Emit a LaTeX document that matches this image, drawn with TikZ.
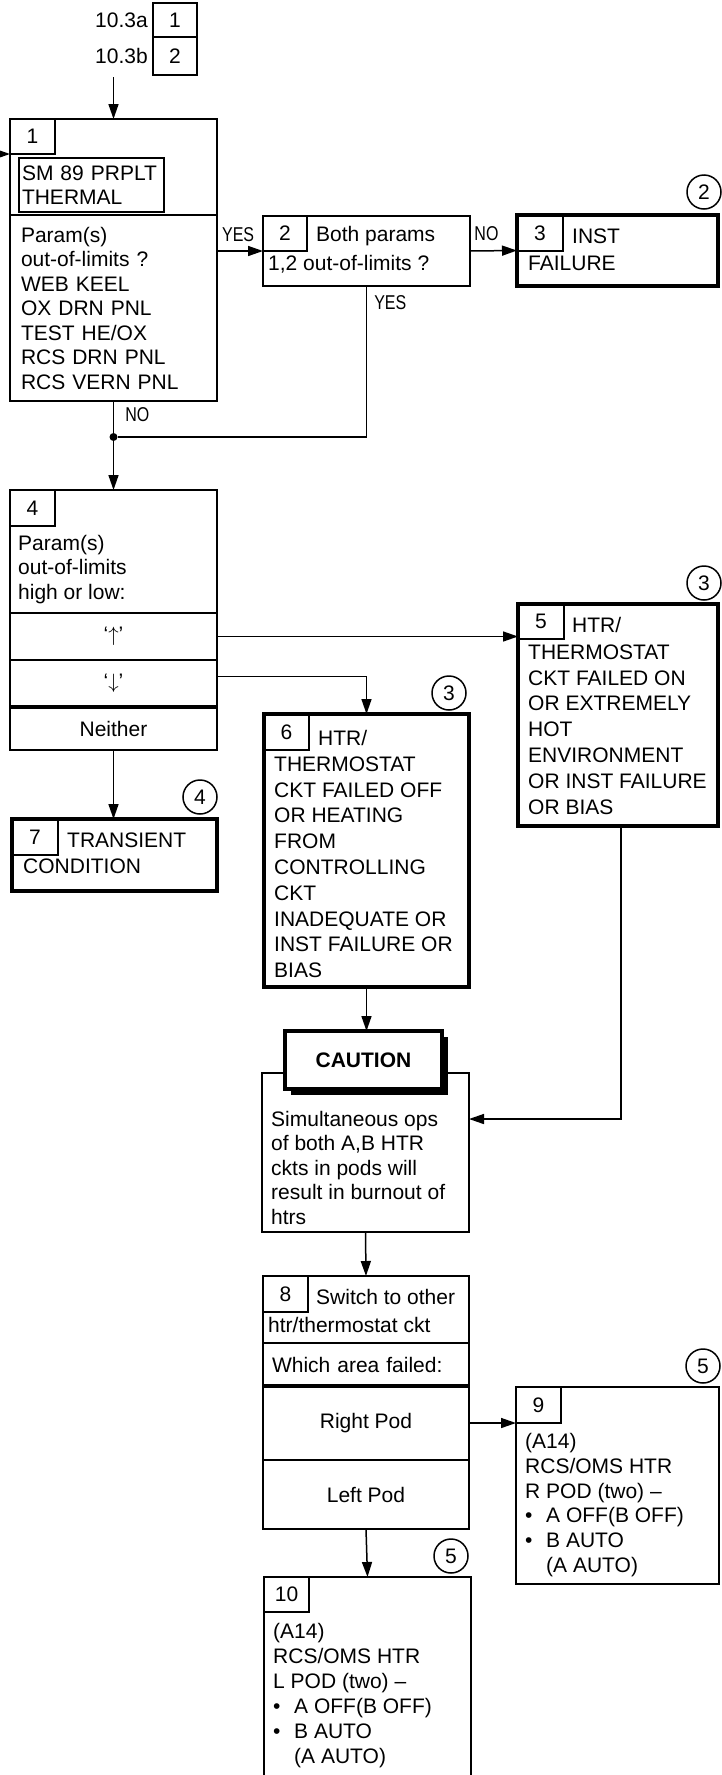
\documentclass[tikz,border=0pt]{standalone}
\usepackage{fontspec}
\setmainfont{Liberation Sans}
\newfontfamily\lblfont[FakeStretch=0.8]{Liberation Sans}
\usetikzlibrary{positioning,arrows.meta,shadows}
\newcommand{\boxfont}{\fontsize{21}{24.5}\selectfont}
\newcommand{\loosefont}{\fontsize{21}{25.8}\selectfont}

\begin{document}
\begin{tikzpicture}[
    x=1pt, y=-1pt,
    boxframe/.style={draw, line width=2pt, inner sep=0pt, outer sep=0pt, minimum width=207pt, anchor=north west, font=\boxfont},
    endframe/.style={boxframe, line width=4.5pt},
    numtab/.style={draw, line width=1.5pt, inner sep=0pt, outer sep=0pt, minimum width=45pt, minimum height=36pt, anchor=north west, font=\boxfont},
    txt/.style={align=left, inner sep=0pt, anchor=north west, font=\boxfont},
    loosetxt/.style={txt, font=\loosefont},
    circnum/.style={circle, draw, line width=1.5pt, minimum size=34pt, inner sep=0pt, font=\boxfont},
    junct/.style={circle, fill, inner sep=0pt, minimum size=8pt},
    yesno/.style={font=\lblfont\fontsize{20}{20}\selectfont, inner sep=1pt},
    arr/.style={-{Triangle[length=15pt, width=10pt]}, line width=1.5pt},
    wire/.style={line width=1.5pt},
]
    \useasboundingbox (0,0) rectangle (721,1775);

    % Entry references
    \node[boxframe, minimum width=44pt, minimum height=34pt] (ref1) at (153,3) {1};
    \node[boxframe, minimum width=44pt, minimum height=38pt, below=0pt of ref1] (ref2) {2};
    \node[txt, left=5pt of ref1] (lbl1) {10.3a};
    \node[txt, left=5pt of ref2] (lbl2) {10.3b};
    \coordinate (entry) at (113.5,77);
    \coordinate (fromleft) at (-8,154);

    % Block 1
    \node[boxframe, minimum height=96pt] (b1head) at (10,119) {};
    \node[boxframe, minimum height=186pt, below=0pt of b1head, text width=185pt, align=left] (b1body) {Param(s)\\out-of-limits ?\\WEB KEEL\\OX DRN PNL\\TEST HE/OX\\RCS DRN PNL\\RCS VERN PNL};
    \node[numtab, minimum height=35pt] (tab1) at (b1head.north west) {1};
    \node[draw, line width=2pt, inner xsep=3pt, inner ysep=0pt, outer sep=0pt, text width=139pt, minimum height=54pt, align=left, font=\boxfont, below right=39pt and 9pt of b1head.north west] (sm89) {SM 89 PRPLT\\THERMAL};

    % Block 2
    \node[boxframe, minimum height=70pt] (b2) at (263,216) {};
    \node[numtab, minimum width=44pt, minimum height=35pt] (tab2) at (b2.north west) {2};
    \node[txt, below right=10pt and 5pt of b2.north west] (b2txt) {\hspace*{48pt}Both params\\[4.5pt]1,2 out-of-limits ?};

    % Block 3
    \node[endframe, minimum width=201pt, minimum height=71pt] (b3) at (517,215) {};
    \node[numtab, minimum width=46pt] (tab3) at (b3.north west) {3};
    \node[txt, below right=14pt and 11pt of b3.north west] (b3txt) {\hspace*{44pt}INST\\[2.5pt]FAILURE};
    \node[circnum] (c2) at (704,192) {2};

    \node[junct] (jn) at (113.5,437) {};

    % Block 4
    \node[boxframe, minimum height=123pt] (b4top) at (10,490) {};
    \node[boxframe, minimum height=47pt, below=0pt of b4top] (b4up) {‘$\uparrow$’};
    \node[boxframe, minimum height=47pt, below=0pt of b4up] (b4down) {‘$\downarrow$’};
    \node[boxframe, minimum height=43pt, below=0pt of b4down] (b4nei) {Neither};
    \draw[line width=3.5pt] (b4down.south west) -- (b4down.south east);
    \node[numtab] (tab4) at (b4top.north west) {4};
    \node[txt, below right=45pt and 8pt of b4top.north west] (b4txt) {Param(s)\\out-of-limits\\high or low:};

    % Block 5
    \node[endframe, minimum width=200pt, minimum height=222pt] (b5) at (518,604) {};
    \node[numtab, minimum width=46pt, minimum height=35pt] (tab5) at (b5.north west) {5};
    \node[loosetxt, below right=13pt and 10pt of b5.north west] (b5txt) {\hspace*{44pt}HTR/\\[1pt]THERMOSTAT\\CKT FAILED ON\\OR EXTREMELY\\HOT\\ENVIRONMENT\\OR INST FAILURE\\OR BIAS};
    \node[circnum] (c3a) at (704,583) {3};

    % Block 6
    \node[endframe, minimum width=205pt, minimum height=273pt] (b6) at (264,714) {};
    \node[numtab] (tab6) at (b6.north west) {6};
    \node[loosetxt, below right=16pt and 10pt of b6.north west] (b6txt) {\hspace*{44pt}HTR/\\THERMOSTAT\\CKT FAILED OFF\\OR HEATING\\FROM\\CONTROLLING\\CKT\\INADEQUATE OR\\INST FAILURE OR\\BIAS};
    \node[circnum] (c3b) at (449,693) {3};

    % Block 7
    \node[endframe, minimum width=205pt, minimum height=72pt] (b7) at (12,819) {};
    \node[numtab, minimum width=46pt] (tab7) at (b7.north west) {7};
    \node[loosetxt, below right=14pt and 11pt of b7.north west] (b7txt) {\hspace*{44pt}TRANSIENT\\CONDITION};
    \node[circnum] (c4) at (200,797) {4};

    % Caution
    \node[boxframe, minimum height=159pt] (cautbox) at (262,1073) {};
    \node[txt, below right=38pt and 9pt of cautbox.north west] (cauttxt) {Simultaneous ops\\of both A,B HTR\\ckts in pods will\\result in burnout of\\htrs};
    \node[endframe, line width=4pt, minimum width=157pt, minimum height=58pt, fill=white, drop shadow={shadow xshift=6pt, shadow yshift=-6pt, fill=black, opacity=1}, font=\boxfont\bfseries] (cauthead) at (285,1031) {CAUTION};

    % Block 8
    \node[boxframe, minimum width=206pt, minimum height=67pt] (b8top) at (263,1276) {};
    \node[boxframe, minimum width=206pt, minimum height=43pt, below=0pt of b8top, text width=188pt, align=left] (b8which) {Which area failed:};
    \node[boxframe, minimum width=206pt, minimum height=74pt, below=0pt of b8which] (b8right) {Right Pod};
    \node[boxframe, minimum width=206pt, minimum height=69pt, below=0pt of b8right] (b8left) {Left Pod};
    \draw[line width=3.5pt] (b8which.south west) -- (b8which.south east);
    \node[numtab] (tab8) at (b8top.north west) {8};
    \node[txt, below right=13pt and 5pt of b8top.north west] (b8txt) {\hspace*{48pt}Switch to other\\[3.5pt]htr/thermostat ckt};

    % Block 9
    \node[boxframe, minimum width=203pt, minimum height=197pt] (b9) at (516,1387) {};
    \node[numtab] (tab9) at (b9.north west) {9};
    \node[txt, below right=46pt and 9pt of b9.north west, font=\fontsize{21}{24.8}\selectfont] (b9txt) {(A14)\\RCS/OMS HTR\\R POD (two) –\\\makebox[21pt][l]{•}A OFF(B OFF)\\\makebox[21pt][l]{•}B AUTO\\\hspace*{21pt}(A AUTO)};
    \node[circnum] (c5a) at (703,1366) {5};

    % Block 10
    \node[boxframe, minimum height=225pt] (b10) at (264,1577) {};
    \node[numtab, minimum height=35pt] (tab10) at (b10.north west) {10};
    \node[txt, below right=46pt and 9pt of b10.north west, font=\fontsize{21}{25}\selectfont] (b10txt) {(A14)\\RCS/OMS HTR\\L POD (two) –\\\makebox[21pt][l]{•}A OFF(B OFF)\\\makebox[21pt][l]{•}B AUTO\\\hspace*{21pt}(A AUTO)};
    \node[circnum] (c5b) at (451,1556) {5};

    % Arrows
    \draw[arr] (entry) -- (b1head.north);
    \draw[arr] (fromleft) -- (tab1.south west);
    \draw[arr] (b1body.east |- b2.west) -- node[yesno, above=8pt, pos=0.46] {YES} (b2.west);
    \draw[arr] (b2.east) -- node[yesno, above=8pt, pos=0.35] {NO} (b3.west);
    \draw[wire] (b1body.south) -- node[yesno, right=10pt, pos=0.42] {NO} (jn);
    \draw[wire] (b2.south) |- node[yesno, right=6pt, pos=0.056] {YES} (jn);
    \draw[arr] (jn) -- (b4top.north);
    \draw[arr] (b4up.east) -- (b4up.east -| b5.west);
    \draw[arr] ([yshift=7pt]b4down.east) -| (b6.north);
    \draw[arr] (b4nei.south) -- (b4nei.south |- b7.north);
    \draw[arr] (b6.south) -- (b6.south |- cauthead.north);
    \draw[arr] ([xshift=3pt]b5.south) |- ([yshift=33.5pt]cautbox.east);
    \draw[arr] (cautbox.south) -- (b8top.north);
    \draw[arr] (b8right.east) -- (b8right.east -| b9.west);
    \draw[arr] (b8left.south) -- (b10.north);
\end{tikzpicture}
\end{document}
